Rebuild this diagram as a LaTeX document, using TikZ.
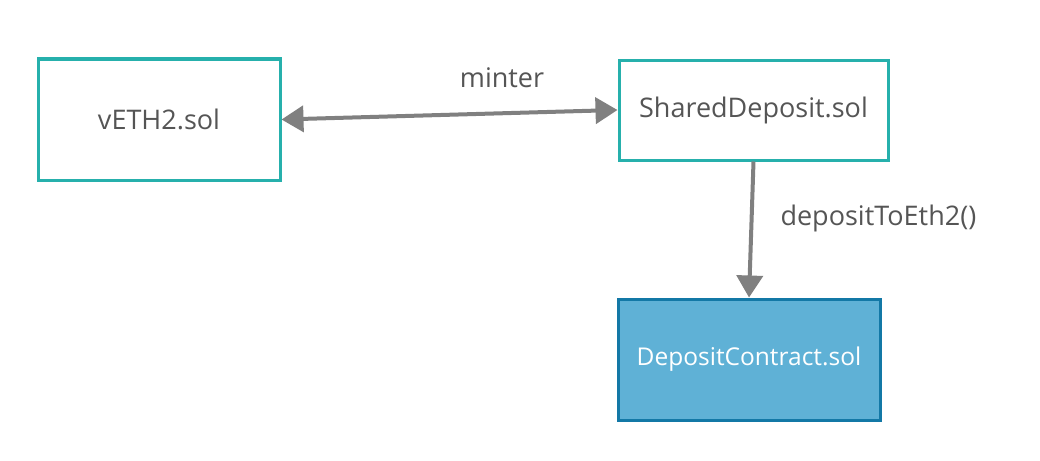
\documentclass[tikz,border=0pt]{standalone}
\usepackage{fontspec}
\setmainfont{Open Sans}
\usetikzlibrary{arrows.meta}
\definecolor{teal1}{HTML}{26B0AC}
\definecolor{blfill}{HTML}{5FB1D6}
\definecolor{bldraw}{HTML}{1378A6}
\definecolor{txt}{HTML}{555555}
\definecolor{arr}{HTML}{808080}
\begin{document}
\begin{tikzpicture}[x=1pt,y=-1pt,
  box/.style={draw=teal1,line width=3pt,fill=white,rectangle,inner sep=0pt,
    font=\fontsize{27}{31}\selectfont,text=txt},
  dbox/.style={draw=bldraw,line width=3pt,fill=blfill,rectangle,inner sep=0pt,
    font=\fontsize{24.5}{29}\selectfont,text=white},
  conn/.style={draw=arr,line width=4pt},
  tip/.style={-{Triangle[length=22pt,width=26pt]}},
  lbl/.style={font=\fontsize{27}{31}\selectfont,text=txt}]
\useasboundingbox (0,0) rectangle (1040,460);
\fill[white] (0,0) rectangle (1040,460);
\node[box,minimum width=242pt,minimum height=121pt] (v) at (159,119.5) {vETH2.sol};
\node[box,minimum width=269pt,minimum height=100pt] (s) at (753.5,110) {SharedDeposit.sol};
\node[dbox,minimum width=262pt,minimum height=121pt] (d) at (749,359.5) {DepositContract.sol};
\draw[conn,{Triangle[length=22pt,width=26pt]}-{Triangle[length=22pt,width=26pt]}] (v.east) -- (s.west);
\draw[conn,tip] (s.south) -- (d.north);
\node[lbl] (m) at (502,78) {minter};
\node[lbl,anchor=west] (dl) at (777,218) {depositToEth2()};
\end{tikzpicture}
\end{document}
